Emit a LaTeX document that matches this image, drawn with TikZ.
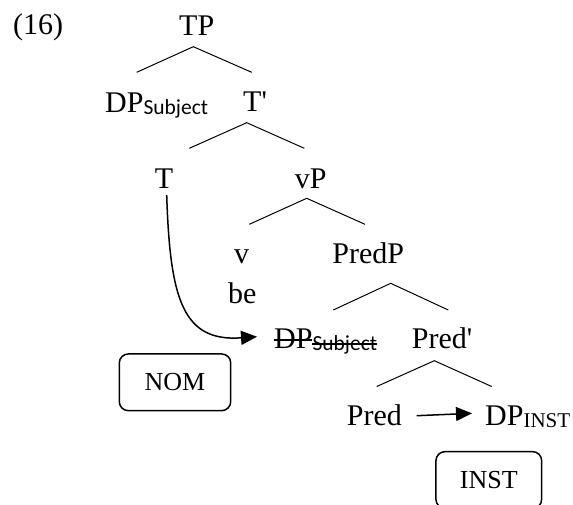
\documentclass[tikz,border=0pt]{standalone}
\usepackage{fontspec}
\setmainfont{Liberation Serif}
\newfontfamily\subfont{Carlito}
\usetikzlibrary{arrows.meta}
\tikzset{
  lbl/.style={inner sep=0pt, font=\fontsize{30}{34}\selectfont},
  boxlbl/.style={draw, line width=1.5pt, rounded corners=9pt, inner sep=0pt,
    font=\fontsize{26}{30}\selectfont},
  branch/.style={line width=1pt},
  mover/.style={line width=1.5pt, -{Triangle[length=16pt,width=14pt]}},
}
\newcommand{\ssub}[1]{\raisebox{-2pt}{\subfont\fontsize{21.5}{24}\selectfont #1}}
\newcommand{\isub}[1]{\raisebox{-2pt}{\fontsize{21}{24}\selectfont #1}}
\begin{document}
\begin{tikzpicture}[x=1pt,y=-1pt]
\useasboundingbox (0,0) rectangle (573,504);
% labels
\node[lbl, anchor=base west] (ex) at (13,34) {(16)};
\node[lbl, anchor=base] (TP) at (196.7,35) {TP};
\node[lbl, anchor=base west] (DPs) at (105,112) {DP\ssub{Subject}};
\node[lbl, anchor=base west] (Tbar) at (243,111) {T\textquotesingle};
\node[lbl, anchor=base] (T) at (164,188.3) {T};
\node[lbl, anchor=base] (vP) at (310.8,188.3) {vP};
\node[lbl, anchor=base] (v) at (241.5,263.3) {v};
\node[lbl, anchor=base] (be) at (242.3,303.3) {be};
\node[lbl, anchor=base] (PredP) at (368.3,263.3) {PredP};
\node[lbl, anchor=base west] (DPt) at (274,348.3) {DP\ssub{Subject}};
\node[lbl, anchor=base west] (Predbar) at (411.7,348.3) {Pred\textquotesingle};
\node[lbl, anchor=base west] (Pred) at (346.7,425) {Pred};
\node[lbl, anchor=base west] (DPi) at (485,425) {DP\isub{INST}};
\node[boxlbl, minimum width=111.4pt, minimum height=56.7pt] (NOM) at (175,382.3) {NOM};
\node[boxlbl, minimum width=105.7pt, minimum height=56.7pt] (INST) at (488.8,480) {INST};
% strike-through of the trace
\draw[line width=1.3pt] (DPt.west |- 0,340) -- ++(38,0) coordinate (s1);
\draw[line width=1.3pt] (s1 |- 0,344) -- (DPt.east |- 0,344);
% branch points
\coordinate (tp0) at (193.3,46.7);
\coordinate (tp1) at (136.7,72.3);
\coordinate (tp2) at (251.7,72.3);
\coordinate (tb0) at (246.7,122.7);
\coordinate (tb1) at (189.3,148.3);
\coordinate (tb2) at (304.3,148.3);
\coordinate (vp0) at (306.7,198.3);
\coordinate (vp1) at (249.3,224.3);
\coordinate (vp2) at (365,224.3);
\coordinate (pp0) at (390.7,283.3);
\coordinate (pp1) at (333.3,310);
\coordinate (pp2) at (448.3,310);
\coordinate (pb0) at (434.3,360.7);
\coordinate (pb1) at (376.7,386.5);
\coordinate (pb2) at (491.7,386.5);
\draw[branch] (tp1) -- (tp0) -- (tp2);
\draw[branch] (tb1) -- (tb0) -- (tb2);
\draw[branch] (vp1) -- (vp0) -- (vp2);
\draw[branch] (pp1) -- (pp0) -- (pp2);
\draw[branch] (pb1) -- (pb0) -- (pb2);
% movement arrows
\coordinate (c0) at (166.7,195);
\coordinate (c3) at (257,336.7);
\draw[mover] (c0) .. controls (170,300) and (183,342) .. (c3);
\coordinate (a0) at (416.7,415.7);
\coordinate (a1) at (472,413.3);
\draw[mover] (a0) -- (a1);
\end{tikzpicture}
\end{document}
